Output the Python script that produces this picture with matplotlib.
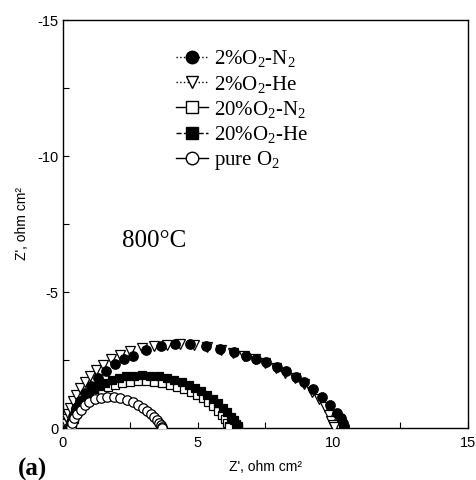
import matplotlib
matplotlib.use("Agg")
import matplotlib.pyplot as plt
from matplotlib.lines import Line2D
import numpy as np

plt.rcParams['axes.unicode_minus'] = False
plt.rcParams['mathtext.fontset'] = 'custom'
plt.rcParams['mathtext.rm'] = 'Liberation Serif'
plt.rcParams['mathtext.it'] = 'Liberation Serif:italic'
plt.rcParams['font.family'] = ['Liberation Sans', 'DejaVu Sans']

# ---- data (Z' real, -Z'' imaginary), ohm cm^2 ----
n2_2_x = [0.22, 0.28, 0.36, 0.48, 0.62, 0.80, 1.02, 1.28, 1.58, 1.92, 2.26, 2.60, 3.06, 3.63, 4.15, 4.70,
          5.28, 5.81, 6.35, 6.77, 7.15, 7.51, 7.91, 8.26, 8.62, 8.94, 9.27, 9.58, 9.89, 10.14, 10.28, 10.36, 10.40, 10.42]
n2_2_y = [0.03, 0.22, 0.45, 0.72, 1.00, 1.28, 1.56, 1.84, 2.10, 2.34, 2.52, 2.65, 2.87, 3.03, 3.08, 3.09,
          3.01, 2.90, 2.78, 2.66, 2.54, 2.41, 2.25, 2.10, 1.89, 1.68, 1.43, 1.15, 0.85, 0.54, 0.35, 0.18, 0.08, 0.02]

he_2_x = [0.10, 0.12, 0.15, 0.20, 0.27, 0.36, 0.48, 0.62, 0.80, 1.00, 1.22, 1.48, 1.78, 2.12, 2.50, 2.92, 3.38,
          3.86, 4.35, 4.85, 5.35, 5.85, 6.30, 6.72, 7.12, 7.50, 7.88, 8.24, 8.58, 8.92, 9.22, 9.48, 9.70, 9.85,
          9.94, 9.99, 10.02]
he_2_y = [0.03, 0.15, 0.32, 0.52, 0.74, 0.98, 1.22, 1.46, 1.70, 1.92, 2.13, 2.33, 2.52, 2.68, 2.82, 2.94, 3.02,
          3.06, 3.07, 3.04, 2.98, 2.88, 2.77, 2.65, 2.52, 2.38, 2.22, 2.04, 1.84, 1.60, 1.33, 1.05, 0.76, 0.48,
          0.26, 0.10, 0.02]

n2_20_x = [0.28, 0.33, 0.40, 0.49, 0.60, 0.73, 0.88, 1.05, 1.24, 1.45, 1.68, 1.93, 2.20, 2.48, 2.78, 3.08,
           3.38, 3.68, 3.96, 4.24, 4.50, 4.74, 4.96, 5.18, 5.38, 5.56, 5.74, 5.88, 6.00, 6.08, 6.13, 6.15]
n2_20_y = [0.02, 0.17, 0.34, 0.52, 0.70, 0.87, 1.03, 1.17, 1.30, 1.41, 1.51, 1.59, 1.65, 1.69, 1.71, 1.71,
           1.69, 1.65, 1.59, 1.52, 1.43, 1.33, 1.22, 1.09, 0.95, 0.80, 0.64, 0.48, 0.33, 0.20, 0.09, 0.02]

he_20_x = [0.25, 0.30, 0.36, 0.44, 0.54, 0.66, 0.80, 0.96, 1.14, 1.34, 1.56, 1.80, 2.06, 2.34, 2.64, 2.94,
           3.24, 3.54, 3.84, 4.12, 4.40, 4.66, 4.90, 5.12, 5.34, 5.54, 5.74, 5.92, 6.08, 6.22, 6.33, 6.42, 6.47, 6.50]
he_20_y = [0.02, 0.18, 0.38, 0.58, 0.78, 0.96, 1.13, 1.30, 1.44, 1.56, 1.67, 1.76, 1.84, 1.90, 1.93, 1.94,
           1.93, 1.90, 1.85, 1.78, 1.69, 1.59, 1.48, 1.36, 1.23, 1.08, 0.92, 0.75, 0.58, 0.42, 0.28, 0.16, 0.07, 0.01]

o2_x = [0.30, 0.34, 0.42, 0.52, 0.65, 0.80, 0.98, 1.18, 1.40, 1.64, 1.88, 2.12, 2.36, 2.58, 2.78, 2.96,
        3.12, 3.26, 3.38, 3.48, 3.56, 3.62, 3.66, 3.68]
o2_y = [0.03, 0.18, 0.35, 0.52, 0.68, 0.83, 0.96, 1.06, 1.12, 1.15, 1.14, 1.10, 1.03, 0.94, 0.84, 0.74,
        0.63, 0.52, 0.41, 0.30, 0.20, 0.12, 0.05, 0.00]

labels = ['2%O$_2$-N$_2$', '2%O$_2$-He', '20%O$_2$-N$_2$', '20%O$_2$-He', 'pure O$_2$']

x_ticks = [0, 5, 10, 15]
y_ticks = [0, -5, -10, -15]

fig = plt.figure(figsize=(4.77, 4.80), dpi=100)
ax = fig.add_axes([63/477, 1-428/480, (468-63)/477, (428-20)/480])

series = [
    (n2_2_x, n2_2_y, dict(marker='o', mfc='black', mec='black', ms=6.8, ls=':')),
    (he_2_x, he_2_y, dict(marker='v', mfc='white', mec='black', ms=7.0, ls=':')),
    (n2_20_x, n2_20_y, dict(marker='s', mfc='white', mec='black', ms=5.8, ls='-')),
    (he_20_x, he_20_y, dict(marker='s', mfc='black', mec='black', ms=5.8, ls='--')),
    (o2_x, o2_y, dict(marker='o', mfc='white', mec='black', ms=6.8, ls='-')),
]
order = [1, 0, 2, 3, 4]
for i in order:
    xs, ys, st = series[i]
    ax.plot(xs, -np.array(ys), linestyle='none', marker=st['marker'], mfc=st['mfc'], mec=st['mec'],
            ms=st['ms'], mew=0.9, zorder=3)

ax.set_xlim(0, 15)
ax.set_ylim(0, -15)
ax.set_xticks(x_ticks)
ax.set_xticks([2.5, 7.5, 12.5], minor=True)
ax.set_yticks(y_ticks)
ax.set_yticks([-2.5, -7.5, -12.5], minor=True)
ax.set_yticklabels([str(v) for v in y_ticks])
ax.tick_params(which='both', direction='in', length=4, width=0.8, labelsize=10.5)
ax.tick_params(axis='x', pad=6)
for s in ax.spines.values():
    s.set_linewidth(1.0)

ax.set_xlabel("Z', ohm cm\u00b2", fontsize=10, labelpad=7)
ax.set_ylabel("Z', ohm cm\u00b2", fontsize=10, labelpad=6)

ax.text(2.2, -6.65, '800\u00b0C', fontsize=18, family='Liberation Serif', va='baseline')
fig.text(18/477, 1-476/480, '(a)', fontsize=18, family='Liberation Serif', fontweight='bold', va='baseline')

handles = []
for xs, ys, st in series:
    handles.append(Line2D([], [], color='black', lw=1.0, ls=st['ls'], marker=st['marker'],
                          mfc=st['mfc'], mec=st['mec'], ms=9, mew=1))
leg = fig.legend(handles, labels, loc='upper left', bbox_to_anchor=(166/477, 1-38/480),
                 frameon=False, borderpad=0, handlelength=1.5, handletextpad=0.3, labelspacing=0.2,
                 prop={'family': 'Liberation Serif', 'size': 15})

fig.savefig('out.png', dpi=100)
